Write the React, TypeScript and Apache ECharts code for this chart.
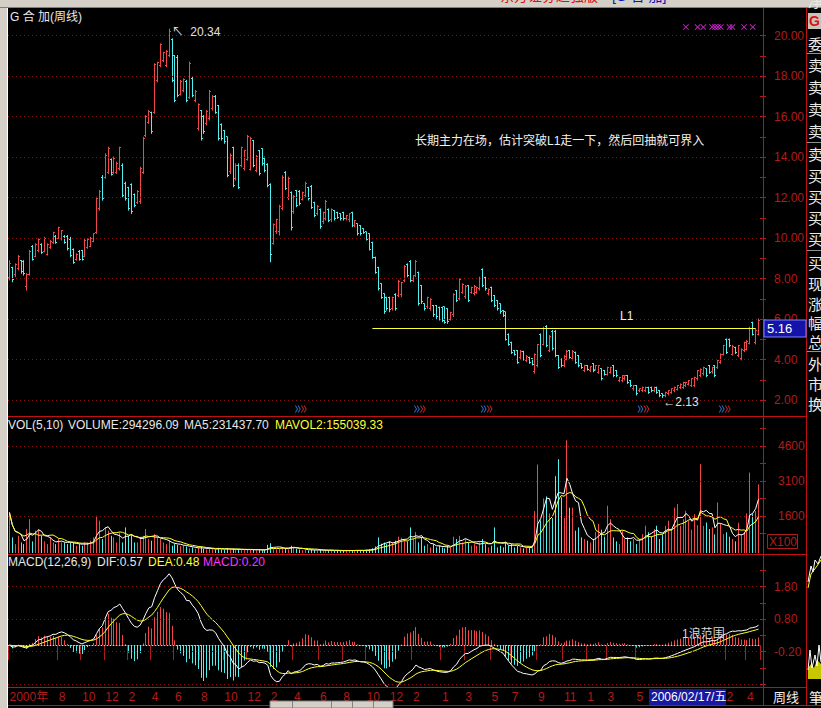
import React, { useEffect, useRef } from 'react';
import * as echarts from 'echarts';

// weekly bars: [open, close, low, high]
const kline: number[][] = [
  [8.05,8.75,7.93,8.91],[8.55,7.95,7.84,8.58],[8.2,8.7,8.09,8.75],[8.5,9.1,8.42,9.16],[8.9,8.35,8.26,8.91],
  [8.85,8.25,8.17,8.91],[7.6,8.2,7.43,8.26],[8.2,9.35,8.17,9.41],[9.6,8.95,8.91,9.65],[9.1,9.7,9.08,9.74],
  [9.4,9.95,9.32,9.98],[9.7,9.3,9.24,9.74],[9.35,10.0,9.32,10.06],[9.2,9.7,9.16,9.74],[9.55,9.85,9.49,9.9],
  [9.8,10.25,9.74,10.31],[10.1,9.8,9.74,10.15],[10.0,10.5,9.98,10.56],[10.0,10.35,9.9,10.39],[10.1,9.8,9.74,10.15],
  [10.1,9.5,9.41,10.15],[9.95,9.15,9.08,10.06],[9.45,8.8,8.75,9.49],[8.95,9.2,8.91,9.24],[9.35,8.95,8.91,9.41],
  [9.4,8.95,8.91,9.41],[9.1,9.9,9.08,9.98],[9.55,9.95,9.49,9.98],[9.6,10.0,9.57,10.06],[9.85,10.2,9.82,10.23],
  [10.25,11.95,10.23,12.04],[11.45,12.3,11.38,12.37],[13.0,11.95,11.87,13.11],[13.0,14.1,12.95,14.18],[13.25,14.4,13.19,14.51],
  [13.9,13.15,13.11,13.93],[13.25,13.95,13.19,14.02],[13.25,13.7,13.19,13.77],[13.45,14.45,13.36,14.51],[13.6,12.1,12.04,13.69],
  [12.7,11.95,11.87,12.78],[12.5,11.45,11.38,12.53],[12.65,11.3,11.21,12.7],[12.15,11.6,11.54,12.2],[11.75,12.3,11.71,12.37],
  [11.8,13.45,11.71,13.52],[13.25,14.9,13.19,15.0],[15.05,16.0,15.0,16.07],[15.7,16.25,15.66,16.32],[16.2,15.25,15.17,16.24],
  [16.2,18.55,16.16,18.63],[17.8,18.65,17.72,18.71],[18.5,19.55,18.46,19.61],[18.75,19.15,18.71,19.2],[18.5,19.2,18.46,19.28],
  [19.0,20.2,18.96,20.34],[19.8,17.8,17.72,19.86],[19.0,16.8,16.73,19.04],[18.9,17.05,16.98,19.04],[17.1,17.75,17.06,17.81],
  [17.3,17.85,17.23,17.89],[17.75,16.8,16.73,17.81],[16.95,18.6,16.9,18.71],[17.9,17.05,16.98,17.97],[16.8,17.25,16.73,17.31],
  [15.4,16.6,15.33,16.65],[16.3,14.9,14.84,16.32],[16.0,15.25,15.17,16.07],[15.65,16.25,15.58,16.32],[15.9,17.25,15.83,17.31],
  [16.4,17.0,16.32,17.06],[17.0,16.2,16.16,17.06],[16.55,14.9,14.84,16.57],[15.6,14.9,14.84,15.66],[15.3,14.75,14.68,15.33],
  [15.0,13.1,13.03,15.0],[13.3,14.1,13.19,14.18],[14.45,12.6,12.53,14.51],[12.95,13.6,12.86,13.69],[13.6,12.5,12.45,13.69],
  [13.6,14.45,13.52,14.51],[13.45,14.3,13.36,14.35],[13.9,15.0,13.85,15.09],[13.4,14.9,13.36,15.0],[14.8,13.6,13.52,14.84],
  [13.35,14.05,13.27,14.1],[14.3,13.2,13.11,14.35],[14.4,13.7,13.6,14.43],[13.95,13.35,13.27,14.02],[13.65,12.6,12.53,13.69],
  [12.65,9.2,8.83,12.7],[9.75,10.65,9.7,10.72],[10.3,10.9,10.23,10.95],[10.3,11.55,10.15,11.64],[11.45,13.0,11.4,13.1],
  [13.25,12.45,12.4,13.3],[12.0,12.95,11.9,13.03],[12.25,10.5,10.4,12.3],[11.3,12.05,11.22,12.12],[12.35,11.6,11.55,12.37],
  [12.3,11.7,11.63,12.37],[11.9,12.25,11.88,12.29],[12.1,12.7,12.04,12.78],[12.5,11.95,11.88,12.53],[12.55,11.5,11.46,12.62],
  [11.75,11.1,11.05,11.79],[11.2,11.55,11.14,11.63],[11.4,10.55,10.48,11.46],[10.8,11.25,10.72,11.3],[10.95,11.8,10.89,11.88],
  [11.4,10.85,10.81,11.46],[10.9,11.4,10.81,11.46],[11.35,10.95,10.89,11.38],[11.25,11.0,10.97,11.3],[11.2,10.95,10.89,11.22],
  [11.25,10.95,10.89,11.3],[10.95,11.1,10.89,11.14],[10.9,11.2,10.81,11.22],[11.25,10.6,10.56,11.3],[10.6,10.85,10.56,10.89],
  [10.7,10.2,10.15,10.72],[10.6,10.2,10.15,10.64],[10.45,10.25,10.23,10.48],[10.3,9.95,9.9,10.31],[10.2,9.45,9.41,10.23],
  [9.8,9.05,9.0,9.82],[9.05,8.3,8.26,9.08],[8.55,7.5,7.43,8.58],[7.75,7.05,7.02,7.76],[7.25,6.35,6.28,7.27],
  [7.05,6.5,6.44,7.1],[7.05,6.45,6.36,7.1],[6.5,7.05,6.44,7.1],[7.2,6.5,6.44,7.27],[7.15,7.85,7.1,7.93],
  [7.2,7.8,7.1,7.84],[7.9,8.6,7.84,8.67],[8.7,8.15,8.09,8.75],[8.85,7.9,7.84,8.91],[7.9,8.15,7.84,8.17],
  [8.15,8.85,8.09,8.91],[8.3,6.75,6.69,8.34],[7.65,6.85,6.77,7.68],[6.75,6.5,6.44,6.77],[6.6,7.05,6.53,7.1],
  [6.5,6.95,6.44,7.02],[6.65,6.2,6.12,6.69],[6.65,6.1,6.03,6.69],[6.55,6.0,5.95,6.61],[6.55,5.95,5.87,6.61],
  [6.6,5.85,5.79,6.61],[6.5,5.9,5.79,6.53],[6.0,6.3,5.95,6.36],[6.2,7.2,6.12,7.27],[7.4,6.9,6.86,7.43],
  [7.0,7.95,6.94,8.01],[7.3,7.7,7.27,7.76],[7.1,7.6,7.02,7.68],[7.65,6.9,6.86,7.68],[7.3,7.55,7.27,7.6],
  [7.25,7.6,7.19,7.68],[7.3,7.55,7.27,7.6],[7.5,8.0,7.43,8.09],[8.45,7.65,7.6,8.5],[8.05,7.5,7.43,8.09],
  [7.25,7.45,7.19,7.51],[7.55,6.9,6.86,7.6],[7.15,6.65,6.61,7.19],[6.9,6.5,6.44,6.94],[6.75,6.35,6.28,6.77],
  [6.4,6.15,6.12,6.44],[6.35,5.0,4.96,6.36],[5.25,4.75,4.71,5.29],[4.85,4.35,4.3,4.88],[4.45,4.25,4.22,4.47],
  [4.45,3.85,3.81,4.47],[4.1,4.4,4.05,4.47],[4.4,4.0,3.97,4.43],[3.95,4.15,3.89,4.22],[4.1,3.85,3.81,4.14],
  [4.05,3.75,3.73,4.06],[3.4,4.25,3.32,4.3],[3.7,4.75,3.64,4.77],[5.25,4.2,4.14,5.29],[4.75,5.55,4.72,5.62],
  [5.65,4.7,4.63,5.7],[4.45,5.15,4.39,5.21],[5.4,4.55,4.47,5.46],[5.4,4.2,4.14,5.46],[4.2,3.6,3.56,4.22],
  [4.0,3.7,3.64,4.06],[3.7,4.15,3.64,4.22],[4.0,4.4,3.98,4.47],[4.45,4.1,4.06,4.47],[4.05,4.4,3.98,4.47],
  [4.35,3.85,3.81,4.39],[4.2,3.7,3.64,4.22],[3.8,3.6,3.56,3.81],[3.45,3.7,3.4,3.73],[3.7,3.5,3.48,3.73],
  [3.45,3.65,3.4,3.68],[3.8,3.45,3.4,3.81],[3.5,3.7,3.48,3.73],[3.35,3.7,3.32,3.73],[3.55,3.05,2.99,3.56],
  [3.45,3.25,3.23,3.48],[3.25,3.6,3.23,3.64],[3.35,3.6,3.32,3.64],[3.7,3.2,3.15,3.73],[3.45,3.2,3.15,3.48],
  [2.95,3.1,2.9,3.15],[2.95,3.2,2.9,3.23],[3.05,3.2,2.99,3.23],[3.2,2.85,2.82,3.23],[2.95,2.7,2.66,2.99],
  [2.55,2.7,2.49,2.74],[2.7,2.3,2.25,2.74],[2.45,2.55,2.41,2.57],[2.45,2.6,2.41,2.66],[2.45,2.6,2.41,2.66],
  [2.6,2.35,2.33,2.66],[2.6,2.45,2.41,2.66],[2.45,2.6,2.41,2.66],[2.6,2.35,2.33,2.66],[2.45,2.2,2.16,2.49],
  [2.3,2.2,2.13,2.33],[2.2,2.38,2.16,2.41],[2.3,2.45,2.25,2.49],[2.35,2.55,2.33,2.57],[2.45,2.62,2.41,2.66],
  [2.5,2.7,2.49,2.74],[2.6,2.78,2.57,2.82],[2.6,2.85,2.57,2.9],[2.7,2.88,2.66,2.9],[2.78,2.95,2.74,2.99],
  [2.7,3.05,2.66,3.07],[2.7,3.1,2.66,3.15],[3.05,3.45,2.99,3.48],[3.2,3.5,3.15,3.56],[3.3,3.6,3.23,3.64],
  [3.55,3.2,3.15,3.56],[3.7,3.35,3.32,3.73],[3.4,3.6,3.32,3.64],[3.7,3.2,3.15,3.73],[3.6,3.95,3.56,3.98],
  [3.85,4.25,3.81,4.3],[4.25,4.7,4.22,4.72],[5.0,4.35,4.3,5.04],[5.0,4.7,4.63,5.04],[4.25,4.65,4.22,4.72],
  [4.6,4.35,4.3,4.63],[4.2,4.7,4.14,4.72],[4.05,4.5,3.98,4.55],[4.45,4.85,4.39,4.88],[4.5,4.9,4.47,4.96],
  [4.8,5.55,4.77,5.62],[5.85,5.25,5.21,5.87],[4.85,5.45,4.77,5.54],[5.25,5.95,5.21,6.03],
];

// weekly volume, in hundreds (X100)
const volume: number[] = [
  1740,670,380,740,455,380,1030,1455,500,960,
  1030,740,500,380,670,455,380,600,455,455,
  380,455,455,310,380,310,455,455,530,670,
  1600,1390,600,1100,960,740,670,455,880,455,
  1100,740,810,455,455,670,740,1030,600,530,
  810,670,600,455,380,530,310,380,350,300,
  330,280,200,240,180,220,260,180,150,200,
  170,150,220,160,140,200,150,180,130,160,
  140,120,170,150,130,120,150,110,130,350,
  420,200,160,180,240,200,150,310,250,180,
  150,120,140,110,160,120,100,140,110,130,
  100,120,90,110,100,90,110,120,100,130,
  110,120,100,140,160,200,280,670,400,450,
  380,500,450,530,700,650,600,500,1100,600,
  900,455,670,310,380,240,380,240,310,240,
  200,310,240,700,600,740,455,600,455,310,
  380,310,455,600,380,240,310,1100,240,310,
  240,455,310,380,240,310,240,200,240,240,
  200,1800,3800,1400,2345,2430,1700,1500,3300,4030,
  2390,1500,4840,1950,1950,960,1100,670,600,530,
  450,600,900,1245,1000,700,2030,1455,670,500,
  380,960,600,670,500,600,380,600,810,1170,
  890,700,1030,1170,600,800,1170,1385,1000,1950,
  2100,1170,1455,1815,1385,1000,1670,1200,3815,1170,
  1310,1030,1100,800,2170,1245,810,890,700,600,
  500,1300,800,900,1700,3455,1670,1800,2943,
];

const monthTickIndex = [0,17,25,33,41,49,57,66,74,82,90,98,107,115,123,131,139,149,157,166,173,182,191,199,206,216,247,254];
const monthTickText = ['2000年','8','10','12','2','4','6','8','10','12','2','4','6','8','10','12','2','1','3','5','7','9','11','1','3','5','2','4'];

const priceTicks = [2,4,6,8,10,12,14,16,18,20];
const priceMinorTicks = [2,3,4,5,6,7,8,9,10,11,12,13,14,15,16,17,18,19,20];
const volTicks = [1600,3100,4600];
const volMinorTicks = [850,1600,2350,3100,3850,4600,5350];
const macdTicks = [1.8,0.8,-0.2];
const macdGridLines = [1.8,0.8,-0.2,-1.2];
const macdMinorTicks = [-1.2,-0.7,-0.2,0.3,0.8,1.3,1.8,2.3];

const signalIndex = [100,141,164,218,246];
const signalLevel = 1.56;
const topMarkIndex = [233,237,239,242,243,244,245,248,249,253,256];
const topMarkLevel = 20.42;
const lineL1 = { from: 125, to: 257, value: 5.56 };

const rightColumn = ['委','卖','卖','卖','卖','卖','买','买','买','买','买','现','涨','幅','总','外','市','换','净'];
const rightColumnY = [43,64,86,108,130,153,175,196,217,238,262,283,303,322,341,363,383,403];

const UP = '#f04848';
const DOWN = '#50f0f0';
const AXIS_RED = '#b01c1c';
const LINE_RED = '#c01010';
const GRID_RED = '#8c1010';
const FONT = '"Liberation Sans", "Noto Sans CJK SC", sans-serif';

function movingAverage(arr: number[], n: number): number[] {
  return arr.map((_, i) => {
    const s = Math.max(0, i - n + 1);
    let sum = 0;
    for (let j = s; j <= i; j++) sum += arr[j];
    return +(sum / (i - s + 1)).toFixed(2);
  });
}

function macd(closes: number[]) {
  let e12 = closes[0], e26 = closes[0], dea = 0;
  const difs: number[] = [], deas: number[] = [], hist: number[] = [];
  closes.forEach((c) => {
    e12 = (2 * c + 11 * e12) / 13;
    e26 = (2 * c + 25 * e26) / 27;
    const d = e12 - e26;
    dea = (2 * d + 8 * dea) / 10;
    difs.push(+d.toFixed(4));
    deas.push(+dea.toFixed(4));
    hist.push(+(2 * (d - dea)).toFixed(4));
  });
  return { difs, deas, hist };
}

export default function App() {
  const ref = useRef<HTMLDivElement>(null);
  useEffect(() => {
    if (!ref.current) return;
    const chart = echarts.init(ref.current, undefined, { renderer: 'svg' });
    const cats = kline.map((_, i) => String(i));
    const closes = kline.map((k) => k[1]);
    const ma5 = movingAverage(volume, 5);
    const ma10 = movingAverage(volume, 10);
    const { difs, deas, hist } = macd(closes);
    const tickMap = new Map<number, string>(monthTickIndex.map((k, j) => [k, monthTickText[j]]));

    let maxIdx = 0, minIdx = 0;
    kline.forEach((k, i) => {
      if (k[3] > kline[maxIdx][3]) maxIdx = i;
      if (k[2] < kline[minIdx][2]) minIdx = i;
    });

    const dotted = (color: string) => ({ color, type: [1, 3] as any, width: 1 });

    const xBase = (gi: number) => ({
      type: 'category', gridIndex: gi, data: cats, boundaryGap: true, show: false,
    });

    const text = (x: number, y: number, t: string, fill: string, extra: any = {}) => ({
      type: 'text', x, y, z: 50,
      style: { text: t, fill, font: `12px ${FONT}`, textVerticalAlign: 'middle', ...extra },
    });

    const option: any = {
      animation: false,
      backgroundColor: '#000000',
      grid: [
        { left: 8, top: 22, width: 752, height: 394 },
        { left: 8, top: 418, width: 752, height: 135 },
        { left: 8, top: 557, width: 752, height: 130 },
      ],
      xAxis: [
        xBase(0),
        xBase(1),
        {
          type: 'category', gridIndex: 2, data: cats, boundaryGap: true,
          axisLine: { show: true, lineStyle: { color: LINE_RED } },
          axisTick: { show: true, interval: (i: number) => tickMap.has(i), length: 15, lineStyle: { color: AXIS_RED } },
          axisLabel: {
            show: true, interval: (i: number) => tickMap.has(i),
            formatter: (_v: string, i: number) => tickMap.get(i) ?? '',
            align: 'left', color: AXIS_RED, fontSize: 12, margin: 4, fontFamily: FONT,
          },
          splitLine: { show: false },
        },
      ],
      yAxis: [
        {
          type: 'value', gridIndex: 0, position: 'right', min: 1.21, max: 20.67, scale: true,
          splitLine: { show: false }, axisLine: { show: false },
          axisTick: { show: true, customValues: priceMinorTicks, length: 6, lineStyle: { color: AXIS_RED } },
          axisLabel: { show: true, customValues: priceTicks, formatter: (v: number) => v.toFixed(2), color: AXIS_RED, fontSize: 12, margin: 14, fontFamily: FONT },
        },
        {
          type: 'value', gridIndex: 1, position: 'right', min: 0, max: 5800,
          splitLine: { show: false }, axisLine: { show: false },
          axisTick: { show: true, customValues: volMinorTicks, length: 6, lineStyle: { color: AXIS_RED } },
          axisLabel: { show: true, customValues: volTicks, formatter: (v: number) => String(v), color: AXIS_RED, fontSize: 12, margin: 18, fontFamily: FONT },
        },
        {
          type: 'value', gridIndex: 2, position: 'right', min: -1.29, max: 2.71,
          splitLine: { show: false }, axisLine: { show: false },
          axisTick: { show: true, customValues: macdMinorTicks, length: 6, lineStyle: { color: AXIS_RED } },
          axisLabel: { show: true, customValues: macdTicks, formatter: (v: number) => v.toFixed(2), color: AXIS_RED, fontSize: 12, margin: 14, fontFamily: FONT },
        },
      ],
      series: [
        {
          name: 'K', type: 'custom', xAxisIndex: 0, yAxisIndex: 0,
          data: kline.map((k, i) => [i, k[0], k[1], k[2], k[3]]),
          encode: { x: 0, y: [1, 2, 3, 4] },
          renderItem: (_p: any, api: any) => {
            const i = api.value(0);
            const o = api.value(1), c = api.value(2), l = api.value(3), h = api.value(4);
            const pl = api.coord([i, l]), ph = api.coord([i, h]);
            const po = api.coord([i, o]), pc = api.coord([i, c]);
            const x = Math.floor(pl[0]) + 0.5;
            const color = c >= o ? UP : DOWN;
            const yo = Math.floor(po[1]) + 0.5, yc = Math.floor(pc[1]) + 0.5;
            return {
              type: 'group',
              children: [
                { type: 'line', shape: { x1: x, y1: ph[1], x2: x, y2: pl[1] + 0.5 }, style: { stroke: color, lineWidth: 1 } },
                { type: 'line', shape: { x1: x - 1.5, y1: yo, x2: x, y2: yo }, style: { stroke: color, lineWidth: 1 } },
                { type: 'line', shape: { x1: x, y1: yc, x2: x + 1.5, y2: yc }, style: { stroke: color, lineWidth: 1 } },
              ],
            };
          },
          markLine: {
            silent: true, symbol: ['none', 'none'], label: { show: false },
            data: [
              ...priceTicks.map((v) => ({ yAxis: v, lineStyle: dotted(GRID_RED) })),
              [
                { coord: [lineL1.from, lineL1.value], lineStyle: { color: '#ffff40', width: 1, type: 'solid' } },
                { coord: [lineL1.to, lineL1.value] },
              ],
            ],
          },
          markPoint: {
            silent: true, symbol: 'circle', symbolSize: 1, itemStyle: { color: 'rgba(0,0,0,0)' },
            data: [
              {
                coord: [maxIdx, kline[maxIdx][3]], value: kline[maxIdx][3],
                label: { show: true, position: 'right', distance: 2, offset: [0, 3], color: '#e0e0e0', fontSize: 12, fontFamily: FONT, formatter: (p: any) => '↖  ' + Number(p.value).toFixed(2) },
              },
              {
                coord: [minIdx, kline[minIdx][2]], value: kline[minIdx][2],
                label: { show: true, position: 'right', distance: 0, offset: [0, 5], color: '#e0e0e0', fontSize: 12, fontFamily: FONT, formatter: (p: any) => '←' + Number(p.value).toFixed(2) },
              },
            ],
          },
        },
        {
          name: 'signalBlue', type: 'scatter', xAxisIndex: 0, yAxisIndex: 0, silent: true,
          data: signalIndex.map((i) => [i, signalLevel]),
          symbol: 'path://M0,0L4,5L0,10L2,10L6,5L2,0ZM5,0L9,5L5,10L7,10L11,5L7,0Z',
          symbolSize: [6, 7], symbolOffset: [-2, 0], itemStyle: { color: '#3a8cff' },
        },
        {
          name: 'signalRed', type: 'scatter', xAxisIndex: 0, yAxisIndex: 0, silent: true,
          data: signalIndex.map((i) => [i, signalLevel]),
          symbol: 'path://M0,0L4,5L0,10L2,10L6,5L2,0ZM5,0L9,5L5,10L7,10L11,5L7,0Z',
          symbolSize: [6, 7], symbolOffset: [4, 0], itemStyle: { color: '#ff3030' },
        },
        {
          name: 'topMarks', type: 'scatter', xAxisIndex: 0, yAxisIndex: 0, silent: true,
          data: topMarkIndex.map((i) => [i, topMarkLevel]),
          symbol: 'path://M0,1L1,0L5,4L9,0L10,1L6,5L10,9L9,10L5,6L1,10L0,9L4,5Z',
          symbolSize: 6, itemStyle: { color: '#ff30ff' },
        },
        {
          name: 'VOL', type: 'custom', xAxisIndex: 1, yAxisIndex: 1,
          data: volume.map((v, i) => [i, v, kline[i][1] >= kline[i][0] ? 1 : 0]),
          encode: { x: 0, y: 1 },
          renderItem: (_p: any, api: any) => {
            const i = api.value(0), v = api.value(1), up = api.value(2);
            const top = api.coord([i, v]), base = api.coord([i, 0]);
            const x = Math.floor(top[0]) + 0.5;
            return { type: 'line', shape: { x1: x, y1: base[1], x2: x, y2: top[1] }, style: { stroke: up ? UP : DOWN, lineWidth: 1 } };
          },
          markLine: {
            silent: true, symbol: ['none', 'none'], label: { show: false },
            data: volTicks.map((v) => ({ yAxis: v, lineStyle: dotted(GRID_RED) })),
          },
        },
        {
          name: 'MA5', type: 'line', xAxisIndex: 1, yAxisIndex: 1, data: ma5, symbol: 'none',
          lineStyle: { color: '#ffffff', width: 1 }, silent: true,
        },
        {
          name: 'MA10', type: 'line', xAxisIndex: 1, yAxisIndex: 1, data: ma10, symbol: 'none',
          lineStyle: { color: '#ffff30', width: 1 }, silent: true,
        },
        {
          name: 'MACD', type: 'custom', xAxisIndex: 2, yAxisIndex: 2,
          data: hist.map((h, i) => [i, h]),
          encode: { x: 0, y: 1 },
          renderItem: (_p: any, api: any) => {
            const i = api.value(0), h = api.value(1);
            const top = api.coord([i, h]), base = api.coord([i, 0]);
            const x = Math.floor(top[0]) + 0.5;
            return { type: 'line', shape: { x1: x, y1: base[1], x2: x, y2: top[1] }, style: { stroke: h >= 0 ? UP : DOWN, lineWidth: 1 } };
          },
          markLine: {
            silent: true, symbol: ['none', 'none'], label: { show: false },
            data: [
              ...macdGridLines.map((v) => ({ yAxis: v, lineStyle: dotted(GRID_RED) })),
              { yAxis: 0, lineStyle: { color: '#d0d0d0', type: [1, 2], width: 1 } },
            ],
          },
        },
        {
          name: 'DIF', type: 'line', xAxisIndex: 2, yAxisIndex: 2, data: difs, symbol: 'none',
          lineStyle: { color: '#ffffff', width: 1 }, silent: true,
        },
        {
          name: 'DEA', type: 'line', xAxisIndex: 2, yAxisIndex: 2, data: deas, symbol: 'none',
          lineStyle: { color: '#ffff30', width: 1 }, silent: true,
        },
      ],
      graphic: [
        // window chrome
        { type: 'rect', shape: { x: 0, y: 0, width: 821, height: 8 }, style: { fill: '#d4d0c8' }, z: 40 },
        { type: 'line', shape: { x1: 0, y1: 7.5, x2: 821, y2: 7.5 }, style: { stroke: '#808080', lineWidth: 1 }, z: 41 },
        { type: 'rect', shape: { x: 0, y: 0, width: 7, height: 708 }, style: { fill: '#d4d0c8' }, z: 40 },
        { type: 'line', shape: { x1: 7.5, y1: 8, x2: 7.5, y2: 708 }, style: { stroke: '#ffffff', lineWidth: 1 }, z: 41 },
        { type: 'text', x: 500, y: -11, z: 42, style: { text: '东方证券超强版', fill: '#e01010', font: `14px ${FONT}` } },
        { type: 'text', x: 612, y: -11, z: 42, style: { text: '[G 合 加]', fill: '#1010c0', font: `14px ${FONT}` } },
        // panel frame lines
        { type: 'line', shape: { x1: 8, y1: 416.5, x2: 806, y2: 416.5 }, style: { stroke: LINE_RED, lineWidth: 1 }, z: 30 },
        { type: 'line', shape: { x1: 8, y1: 554.5, x2: 806, y2: 554.5 }, style: { stroke: LINE_RED, lineWidth: 1 }, z: 30 },
        { type: 'line', shape: { x1: 8, y1: 687.5, x2: 806, y2: 687.5 }, style: { stroke: LINE_RED, lineWidth: 1 }, z: 30 },
        { type: 'line', shape: { x1: 8, y1: 705.5, x2: 821, y2: 705.5 }, style: { stroke: LINE_RED, lineWidth: 1 }, z: 30 },
        { type: 'line', shape: { x1: 763.5, y1: 8, x2: 763.5, y2: 706 }, style: { stroke: LINE_RED, lineWidth: 1 }, z: 30 },
        { type: 'line', shape: { x1: 806.5, y1: 8, x2: 806.5, y2: 706 }, style: { stroke: LINE_RED, lineWidth: 1 }, z: 30 },
        // titles
        text(10, 17, 'G 合 加(周线)', '#e8e8e8'),
        text(415, 141, '长期主力在场，估计突破L1走一下，然后回抽就可界入', '#f0f0f0'),
        text(620, 316, 'L1', '#f0f0f0'),
        text(682, 634, '1浪范围', '#d8d8d8'),
        text(8, 425, 'VOL(5,10)', '#e8e8e8'),
        text(68, 425, 'VOLUME:294296.09', '#e8e8e8'),
        text(184, 425, 'MA5:231437.70', '#e8e8e8'),
        text(275, 425, 'MAVOL2:155039.33', '#ffff30'),
        text(8, 562, 'MACD(12,26,9)', '#e8e8e8'),
        text(97, 562, 'DIF:0.57', '#e8e8e8'),
        text(148, 562, 'DEA:0.48', '#ffff30'),
        text(203, 562, 'MACD:0.20', '#ff30ff'),
        // price box
        { type: 'rect', shape: { x: 764, y: 320, width: 42, height: 17 }, style: { fill: '#1414a8', stroke: '#8080ff', lineWidth: 1 }, z: 45 },
        text(767, 328.5, '5.16', '#ffffff', { font: `13px ${FONT}` }),
        // X100 box
        { type: 'rect', shape: { x: 767.5, y: 534.5, width: 30, height: 14 }, style: { fill: 'none', stroke: AXIS_RED, lineWidth: 1 }, z: 45 },
        text(769, 542, 'X100', AXIS_RED),
        // date box on axis
        { type: 'rect', shape: { x: 649, y: 689, width: 77, height: 16 }, style: { fill: '#1818a0' }, z: 60 },
        { type: 'text', x: 651, y: 697, z: 61, style: { text: '2006/02/17/五', fill: '#ffffff', font: `12px ${FONT}`, textVerticalAlign: 'middle' } },
        text(773, 697, '周线', '#f0f0f0', { font: `13px ${FONT}` }),
        // bottom toolbar fragment
        { type: 'rect', shape: { x: 270, y: 701, width: 123, height: 7 }, style: { fill: '#d4d0c8', stroke: '#808080', lineWidth: 1 }, z: 62 },
        { type: 'line', shape: { x1: 292.5, y1: 701, x2: 292.5, y2: 708 }, style: { stroke: '#808080' }, z: 63 },
        { type: 'line', shape: { x1: 331.5, y1: 701, x2: 331.5, y2: 708 }, style: { stroke: '#808080' }, z: 63 },
        { type: 'line', shape: { x1: 352.5, y1: 701, x2: 352.5, y2: 708 }, style: { stroke: '#808080' }, z: 63 },
        { type: 'line', shape: { x1: 373.5, y1: 701, x2: 373.5, y2: 708 }, style: { stroke: '#808080' }, z: 63 },
        // right info column
        { type: 'rect', shape: { x: 808, y: 13, width: 13, height: 16 }, style: { fill: '#c8c4bc' }, z: 45 },
        { type: 'text', x: 809, y: 21, z: 46, style: { text: 'G', fill: '#e01010', font: `bold 14px ${FONT}`, textVerticalAlign: 'middle' } },
        ...rightColumn.map((ch, j) => ({
          type: 'text', x: 808, y: rightColumnY[j], z: 45,
          style: { text: ch, fill: '#e8e8e8', font: `15px "Noto Sans CJK SC", sans-serif`, textVerticalAlign: 'middle' },
        })),
        ...[53, 142, 250, 351].map((y) => ({
          type: 'line', shape: { x1: 807, y1: y + 0.5, x2: 821, y2: y + 0.5 }, style: { stroke: '#909090', lineWidth: 1 }, z: 45,
        })),
        // mini chart fragment at bottom right
        { type: 'polyline', shape: { points: [[808, 582], [811, 566], [813, 572], [815, 560], [818, 564], [821, 556]] }, style: { stroke: '#ffffff', lineWidth: 1, fill: 'none' }, z: 45 },
        { type: 'polyline', shape: { points: [[808, 588], [811, 574], [814, 570], [817, 566], [821, 560]] }, style: { stroke: '#ffff30', lineWidth: 1, fill: 'none' }, z: 45 },
        { type: 'polygon', shape: { points: [[808, 679], [808, 668], [811, 664], [814, 668], [817, 660], [821, 664], [821, 679]] }, style: { fill: '#c8c800' }, z: 45 },
        { type: 'polyline', shape: { points: [[808, 670], [810, 650], [812, 668], [815, 655], [817, 666], [819, 645], [821, 662]] }, style: { stroke: '#ffffff', lineWidth: 1, fill: 'none' }, z: 46 },
        { type: 'text', x: 809, y: 697, z: 46, style: { text: '筆', fill: '#f0f0f0', font: `14px "Noto Sans CJK SC", sans-serif`, textVerticalAlign: 'middle' } },
      ],
    };
    chart.setOption(option);
    return () => chart.dispose();
  }, []);
  return <div ref={ref} style={{ position: 'fixed', left: 0, top: 0, width: 821, height: 708 }} />;
}
